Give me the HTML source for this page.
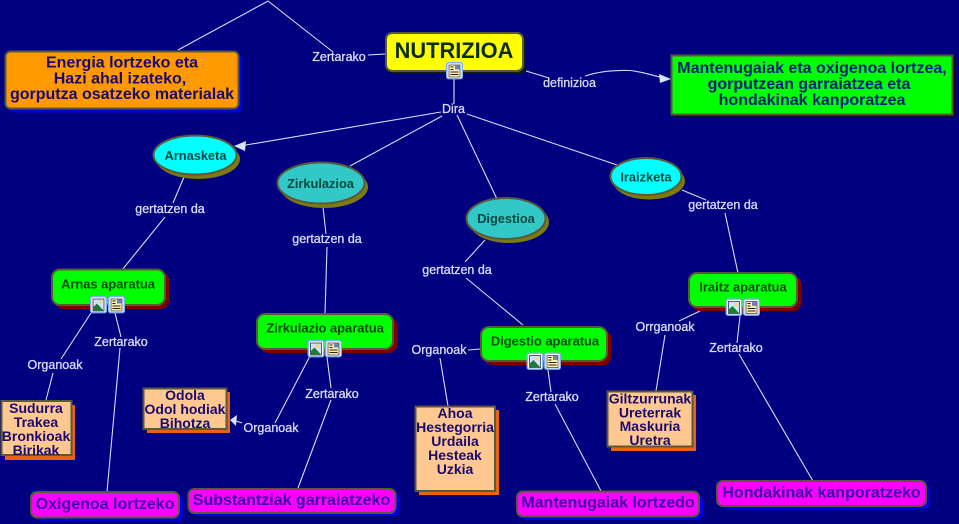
<!DOCTYPE html>
<html><head><meta charset="utf-8"><style>
html,body{margin:0;padding:0;background:#000080;width:959px;height:524px;overflow:hidden}
svg{display:block}
text{font-family:"Liberation Sans",sans-serif;font-weight:bold;text-anchor:middle}
.l{fill:#d8dcf4;font-size:12.5px;font-weight:normal;stroke:#d8dcf4;stroke-width:.3px}
.c{fill:none;stroke:#d8dcf4;stroke-width:1.1}
.b{stroke:#5a5a3a;stroke-width:2}
.t{font-size:16px;fill:#1a0a70}
.p{font-size:14px;fill:#1a0a70}
.g{font-size:12.900px;fill:#064a06}
.e{font-size:12.800px;fill:#044a40}
.m{font-size:16px;fill:#3a00a0}
</style></head><body>
<svg width="959" height="524" viewBox="0 0 959 524" xmlns="http://www.w3.org/2000/svg">
<defs>
<g id="doc"><rect x=".7" y=".7" width="15.6" height="16" rx="2" fill="#fff" stroke="#7fb0ee" stroke-width="1.4"/><rect x="3" y="3" width="11" height="12" fill="#ffeeb0" stroke="#333" stroke-width=".7"/><rect x="9" y="3.5" width="4.5" height="4" fill="#6a86b8"/><path d="M4.5 5h3M4.5 7.5h3M4.5 10h8M4.5 12.500h8" stroke="#222" stroke-width="1"/></g>
<g id="img"><rect x=".7" y=".7" width="15.6" height="16" rx="2" fill="#fff" stroke="#7fb0ee" stroke-width="1.4"/><rect x="3" y="3" width="11" height="12" fill="#cfe4f6" stroke="#123" stroke-width=".7"/><circle cx="10.500" cy="6" r="1.700" fill="#f4d860"/><path d="M3.300 14.700V11L7 7.500l6.700 7.200z" fill="#1f7a3a"/></g>
</defs>
<rect width="959" height="524" fill="#000080"/>

<!-- connectors -->
<path class="c" d="M178 50L268 1L333 52M368 55L385 54M454 79V104M442 116L350 166M457 115L497 199M467 114L617 165M184 177L173 203M165 217L122 270M323 207L326 234M327 247L325 314M485 240L465 262M466 278L523 325M682 190L706 200M725 213L738 273M91 313L61 359M53 373L46 400M115 313L121 337M120 348L107 492M310 356L275 423M327 357L331 388M331 400L298 488M481 349L468 350M440 358L448 406M548 370L551 392M555 404L601 491M700 311L679 321M665 335L656 391M740 316L737 343M739 354L813 481M526 71L549 78M585 76C600 71 615 70 630 70.500C645 72 650 75 660 77"/>
<path class="c" d="M441 112L240 146"/>
<path class="c" d="M242 423L236 421"/>
<path d="M234 146L246 141L245 151Z" fill="#d8e4f8"/>
<path d="M230 420L237 415L236 426Z" fill="#d8e4f8"/>
<path d="M671 79L659 74L660 83Z" fill="#d8e4f8"/>

<!-- NUTRIZIOA -->
<rect x="389" y="36" width="137" height="38" rx="6" fill="#0c1c10"/>
<rect x="386" y="33" width="137" height="38" rx="6" fill="#ffff00" class="b"/>
<text x="454" y="58" font-size="21.800px" fill="#0a2c10">NUTRIZIOA</text>

<!-- Orange -->
<rect x="8" y="54" width="234" height="58.500" rx="5" fill="#0000e6"/>
<rect x="5.500" y="51.500" width="233" height="57" rx="5" fill="#ff9900" class="b"/>
<text class="t" x="122" y="67.500">Energia lortzeko eta</text>
<text class="t" x="120" y="83.500">Hazi ahal izateko,</text>
<text class="t" x="122" y="99">gorputza osatzeko materialak</text>

<!-- Green def -->
<rect x="673" y="57" width="282" height="60" fill="#101010"/>
<rect x="671.500" y="55.500" width="281" height="59" fill="#00ff00" class="b"/>
<text class="t" x="812" y="73" style="fill:#00207a">Mantenugaiak eta oxigenoa lortzea,</text>
<text class="t" x="809" y="89" style="fill:#00207a">gorputzean garraiatzea eta</text>
<text class="t" x="812" y="105" style="fill:#00207a">hondakinak kanporatzea</text>

<!-- Ellipses -->
<ellipse cx="198" cy="159" rx="42" ry="20" fill="#7d7a10"/>
<ellipse cx="195" cy="155" rx="41.500" ry="19.500" fill="#00ffff" class="b"/>
<text class="e" x="195.500" y="160">Arnasketa</text>
<ellipse cx="324" cy="187" rx="44" ry="21" fill="#7d7a10"/>
<ellipse cx="321" cy="183" rx="43.500" ry="20.500" fill="#33c8c8" class="b"/>
<text class="e" x="320.500" y="188">Zirkulazioa</text>
<ellipse cx="509" cy="222" rx="40" ry="21" fill="#7d7a10"/>
<ellipse cx="506" cy="218.500" rx="39.500" ry="20.500" fill="#33c8c8" class="b"/>
<text class="e" x="506" y="223">Digestioa</text>
<ellipse cx="649" cy="181" rx="36" ry="18.500" fill="#7d7a10"/>
<ellipse cx="646" cy="176.500" rx="35.500" ry="18.500" fill="#00ffff" class="b"/>
<text class="e" x="646" y="181.500">Iraizketa</text>

<!-- Apparatus -->
<rect x="55" y="272" width="114" height="37" rx="8" fill="#800000"/>
<rect x="52" y="269.500" width="113" height="35.500" rx="8" fill="#00ff00" class="b"/>
<text class="g" x="108" y="288.500">Arnas aparatua</text>
<rect x="260" y="317" width="137" height="36" rx="8" fill="#800000"/>
<rect x="257" y="314" width="136" height="35" rx="8" fill="#00ff00" class="b"/>
<text class="g" x="325" y="332.500">Zirkulazio aparatua</text>
<rect x="484" y="330" width="127" height="35" rx="8" fill="#800000"/>
<rect x="481" y="327" width="126" height="34" rx="8" fill="#00ff00" class="b"/>
<text class="g" x="545" y="345.500">Digestio aparatua</text>
<rect x="692" y="276" width="109" height="35" rx="8" fill="#800000"/>
<rect x="689" y="273" width="108" height="34" rx="8" fill="#00ff00" class="b"/>
<text class="g" x="743" y="291.500">Iraitz aparatua</text>

<!-- Icons -->
<use href="#doc" x="446" y="62"/>
<use href="#img" x="90" y="296"/><use href="#doc" x="108" y="296"/>
<use href="#img" x="307.500" y="340"/><use href="#doc" x="325" y="340"/>
<use href="#img" x="526.500" y="352.500"/><use href="#doc" x="544" y="352.500"/>
<use href="#img" x="725.500" y="298.500"/><use href="#doc" x="743" y="298.500"/>

<!-- Peach boxes -->
<rect x="5" y="405" width="70" height="55" fill="#e86414"/>
<rect x="1.500" y="401" width="70" height="54" fill="#ffc890" class="b"/>
<text class="p" x="36" y="413">Sudurra</text>
<text class="p" x="36" y="427">Trakea</text>
<text class="p" x="36" y="441">Bronkioak</text>
<text class="p" x="36" y="455">Birikak</text>
<rect x="147" y="392" width="83" height="41" fill="#e86414"/>
<rect x="143.500" y="388.500" width="83" height="40.500" fill="#ffc890" class="b"/>
<text class="p" x="185" y="400">Odola</text>
<text class="p" x="185" y="414">Odol hodiak</text>
<text class="p" x="185" y="428">Bihotza</text>
<rect x="419" y="410" width="80" height="85" fill="#e86414"/>
<rect x="415.500" y="406.500" width="79.500" height="84.500" fill="#ffc890" class="b"/>
<text class="p" x="455" y="418">Ahoa</text>
<text class="p" x="455" y="432">Hestegorria</text>
<text class="p" x="455" y="446">Urdaila</text>
<text class="p" x="455" y="460">Hesteak</text>
<text class="p" x="455" y="474">Uzkia</text>
<rect x="611" y="395" width="85" height="56" fill="#e86414"/>
<rect x="607.500" y="391.500" width="85" height="55" fill="#ffc890" class="b"/>
<text class="p" x="650" y="403.500">Giltzurrunak</text>
<text class="p" x="650" y="417.500">Ureterrak</text>
<text class="p" x="650" y="431">Maskuria</text>
<text class="p" x="650" y="445">Uretra</text>

<!-- Magenta -->
<rect x="34" y="495" width="149" height="26" rx="6" fill="#0000e6"/>
<rect x="31" y="492" width="148" height="25.500" rx="6" fill="#ff00ff" class="b"/>
<text class="m" x="105" y="509">Oxigenoa lortzeko</text>
<rect x="192" y="492" width="207" height="24" rx="6" fill="#0000e6"/>
<rect x="188.500" y="489" width="207" height="24" rx="6" fill="#ff00ff" class="b"/>
<text class="m" x="291.500" y="505">Substantziak garraiatzeko</text>
<rect x="521" y="495" width="182" height="25" rx="6" fill="#0000e6"/>
<rect x="517" y="491.500" width="182" height="25" rx="6" fill="#ff00ff" class="b"/>
<text class="m" x="608" y="507.500">Mantenugaiak lortzedo</text>
<rect x="721" y="484" width="209" height="25" rx="6" fill="#0000e6"/>
<rect x="717" y="481" width="209" height="25" rx="6" fill="#ff00ff" class="b"/>
<text class="m" x="821.500" y="497.500">Hondakinak kanporatzeko</text>

<!-- Labels -->
<text class="l" x="339" y="61">Zertarako</text>
<text class="l" x="453.500" y="113">Dira</text>
<text class="l" x="569.500" y="87">definizioa</text>
<text class="l" x="170" y="213">gertatzen da</text>
<text class="l" x="327" y="243">gertatzen da</text>
<text class="l" x="457" y="274">gertatzen da</text>
<text class="l" x="723" y="209">gertatzen da</text>
<text class="l" x="55" y="369">Organoak</text>
<text class="l" x="121" y="346">Zertarako</text>
<text class="l" x="271" y="432">Organoak</text>
<text class="l" x="332" y="398">Zertarako</text>
<text class="l" x="439" y="354">Organoak</text>
<text class="l" x="552" y="401">Zertarako</text>
<text class="l" x="665" y="331">Orrganoak</text>
<text class="l" x="736" y="352">Zertarako</text>
</svg>
</body></html>
